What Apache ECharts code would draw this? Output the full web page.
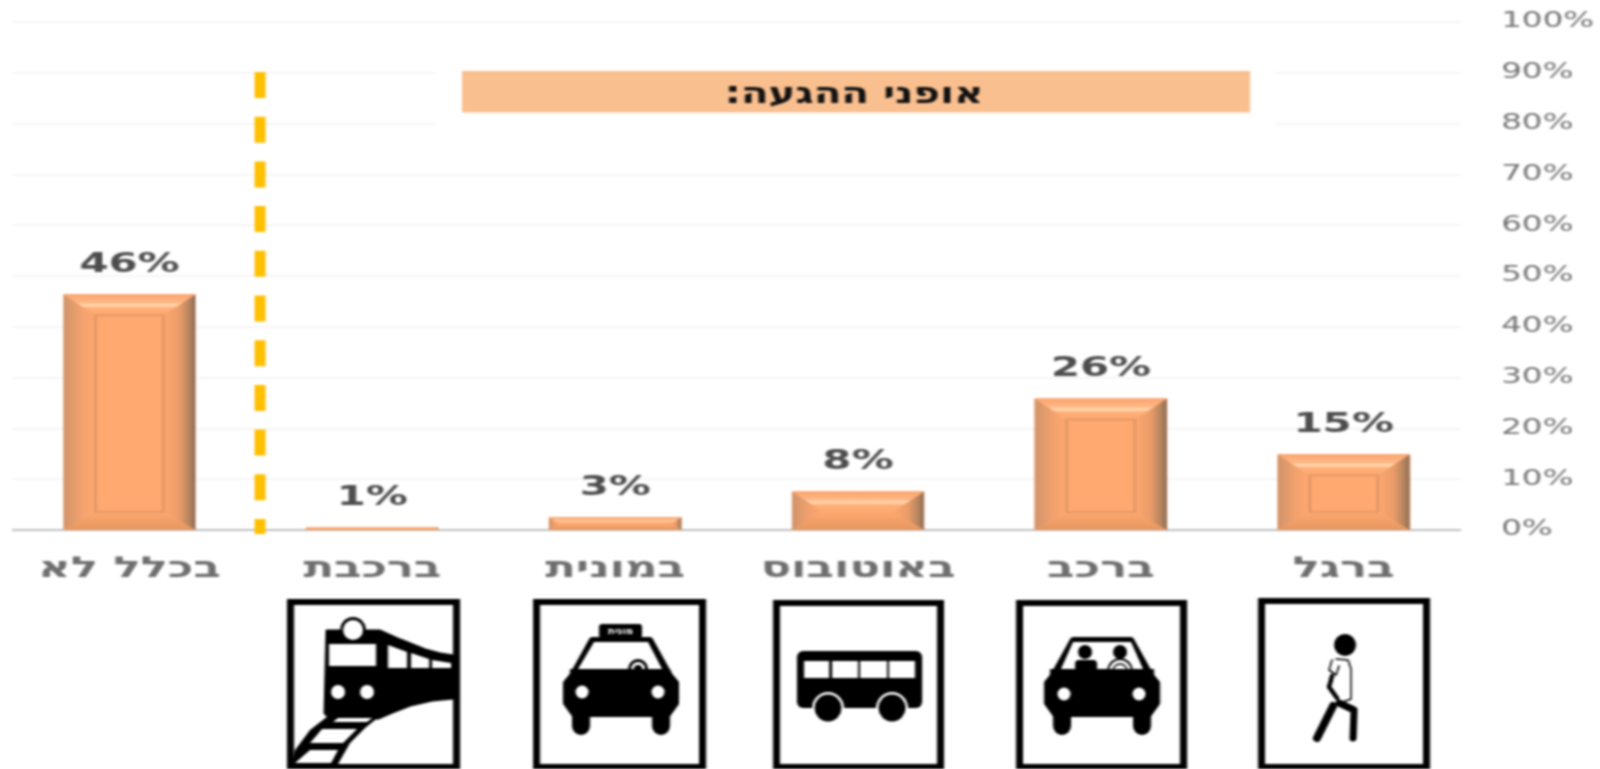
<!DOCTYPE html>
<html lang="he">
<head>
<meta charset="utf-8">
<style>
html,body{margin:0;padding:0;background:#fff;overflow:hidden;width:1600px;height:769px}
#chart{width:1032.26px;height:769px;transform:scaleX(1.55);transform-origin:0 0;direction:rtl;filter:blur(0.8px)}
</style>
<script src="https://cdn.jsdelivr.net/npm/echarts@6/dist/echarts.min.js"></script>
</head>
<body>
<div id="chart"></div>
<script>
// ---- data ----
const categories = ['ברגל', 'ברכב', 'באוטובוס', 'במונית', 'ברכבת', 'בכלל לא'];
const values = [14.9, 25.9, 7.6, 2.5, 0.5, 46.4];
const headerText = 'אופני ההגעה:';
const taxiSign = 'מונית';

// ---- layout ----
const SX = 1.55;            // the reference is stretched horizontally
const FONT = '"DejaVu Sans", sans-serif';
const BAR_W = 132;
const u = x => x / SX;

const chart = echarts.init(document.getElementById('chart'));

// ---- pictogram helpers (real page pixels, inside a group scaled by 1/SX) ----
const K = '#000', W = '#fff';
const rect = (x, y, w, h, fill, r) => ({type:'rect', z:6, shape:{x, y, width:w, height:h, r:r||0}, style:{fill}});
const circ = (cx, cy, r, fill) => ({type:'circle', z:6, shape:{cx, cy, r}, style:{fill}});
const poly = (points, fill, round) => ({type:'polygon', z:6, shape:{points}, style:{fill, stroke: round ? fill : null, lineWidth: round||0, lineJoin:'round'}});
const line = (points, lineWidth, stroke) => ({type:'polyline', z:6, shape:{points}, style:{fill:null, stroke: stroke||K, lineWidth, lineCap:'round', lineJoin:'round'}});
const frame = (x0, x1, y0) => [
  rect(x0, y0, x1 - x0, 769 - y0, K),
  rect(x0 + 7, y0 + 6, x1 - x0 - 14, 763 - y0 - 6 + 1, W)
];

function trainIcon(){
  return [
    ...frame(287, 460, 599),
    poly([[327,631],[380,631],[400,640],[425,650],[440,654],[453,656],[453,698],[432,700],[410,705],[392,712],[378,718],[330,718],[325,713]], K, 3),
    circ(353, 630, 13, K), circ(353, 630, 10, W),
    rect(329, 644, 47, 22, W),
    poly([[388,645],[407,652],[407,668],[388,668]], W),
    poly([[411,653],[429,659],[429,668],[411,668]], W),
    poly([[432,660],[451,663],[451,668],[432,668]], W),
    circ(338, 692, 7, W), circ(367, 692, 7, W),
    poly([[328,716],[380,716],[365,728],[350,743],[338,764],[292,764],[295,750],[310,730]], K),
    poly([[338,718],[372,718],[367,722],[333,722]], W),
    poly([[322,729],[357,729],[343,743],[310,743]], W),
    poly([[310,750],[338,750],[331,763],[295,763]], W)
  ];
}
function carBody(x, top, tw, w){
  // x = centre, tw = half roof width, w = half body width
  return [
    poly([[x-tw+1,top+2],[x+tw-1,top+2],[x+w-9,top+38],[x+w-3,top+45],[x+w-3,top+65],[x+w-11,top+76],[x-w+11,top+76],[x-w+3,top+65],[x-w+3,top+45],[x-w+9,top+38]], K, 6),
    rect(x-w+9, top+70, 18, 27, K, 9),
    rect(x+w-27, top+70, 18, 27, K, 9)
  ];
}
function taxiIcon(){
  return [
    ...frame(533, 706, 599),
    ...carBody(621, 638, 30, 58),
    rect(599, 624, 43, 14, K, 3),
    {type:'text', z:7, x:620.5, y:631, style:{text:taxiSign, fontFamily:FONT, fontWeight:'bold', fontSize:10, fill:W, align:'center', verticalAlign:'middle'}},
    poly([[594,642],[648,642],[662,669],[578,669]], W),
    circ(638, 669, 10, K), circ(638, 669, 7, W), circ(638, 669, 4, K),
    rect(570, 669, 100, 10, K),
    circ(582, 692, 6.5, W), circ(658, 692, 6.5, W)
  ];
}
function busIcon(){
  return [
    ...frame(773, 944, 600),
    rect(797, 651, 125, 57, K, 6),
    rect(804, 661, 25, 17, W), rect(832, 661, 26, 17, W), rect(860, 661, 27, 17, W), rect(889, 661, 26, 17, W),
    circ(828, 708, 16, W), circ(892, 708, 16, W),
    circ(828, 708, 13.5, K), circ(892, 708, 13.5, K)
  ];
}
function carIcon(){
  return [
    ...frame(1016, 1187, 600),
    ...carBody(1102, 638, 30, 58),
    poly([[1073,642],[1131,642],[1143,669],[1061,669]], W),
    circ(1085, 652, 7, K), rect(1075, 660, 22, 12, K, 4),
    circ(1120, 652, 7, K),
    {type:'arc', z:6, shape:{cx:1120, cy:671, r:12, startAngle:Math.PI, endAngle:0}, style:{fill:null, stroke:K, lineWidth:2}},
    {type:'arc', z:6, shape:{cx:1120, cy:671, r:7, startAngle:Math.PI, endAngle:0}, style:{fill:null, stroke:K, lineWidth:1.5}},
    rect(1050, 669, 104, 10, K),
    circ(1064, 694, 6.5, W), circ(1139, 694, 6.5, W)
  ];
}
function walkIcon(){
  return [
    ...frame(1258, 1430, 598),
    circ(1345, 645, 11, K),
    poly([[1336,659],[1348,660],[1351,669],[1351,699],[1340,703],[1335,697],[1337,680]], W),
    line([[1336,659],[1348,660],[1351,669],[1351,699],[1340,703]], 1.6),
    line([[1332,660],[1329,670],[1336,675],[1339,666]], 1.6),
    line([[1332,676],[1329,687],[1337,698]], 4.5),
    line([[1333,706],[1317,738]], 8),
    line([[1339,703],[1354,710],[1353,738]], 7)
  ];
}

// ---- bevel drawn over every bar, positioned by the value axis ----
function bevel(params, api){
  const top = api.coord([api.value(0), api.value(1)]);
  const base = api.coord([api.value(0), 0]);
  const w = u(BAR_W), x0 = top[0] - w / 2, x1 = x0 + w, y0 = top[1], y1 = base[1], h = y1 - y0;
  const k = Math.min(1, h / 39);
  const bx = u(32) * k, bt = 21 * k, bb = 18 * k;
  const grad = (x2, y2, stops) => ({type:'linear', x:0, y:0, x2, y2, colorStops:stops.map(s => ({offset:s[0], color:s[1]}))});
  const pg = (points, fill) => ({type:'polygon', shape:{points}, style:{fill}});
  const kids = [
    {type:'rect', shape:{x:x0, y:y0, width:w, height:h}, style:{fill:'#FFA870'}},
    pg([[x0,y0],[x0+bx,y0+bt],[x0+bx,y1-bb],[x0,y1]], grad(1,0,[[0,'#D0946A'],[0.55,'#F2A16E'],[1,'#FFA870']])),
    pg([[x1,y0],[x1-bx,y0+bt],[x1-bx,y1-bb],[x1,y1]], grad(1,0,[[0,'#FFA870'],[0.5,'#EA9C69'],[0.82,'#B4845F'],[1,'#8C6B54']])),
    pg([[x0,y0],[x1,y0],[x1-bx,y0+bt],[x0+bx,y0+bt]], grad(0,1,[[0,'#FAA56F'],[0.38,'#FFB684'],[0.52,'#FFDAB0'],[0.68,'#FFAE78'],[1,'#FFA870']])),
    pg([[x0,y1],[x1,y1],[x1-bx,y1-bb],[x0+bx,y1-bb]], grad(0,1,[[0,'#FFA870'],[1,'#E5975F']]))
  ];
  if (h > bt + bb + 4) {
    kids.push({type:'rect', shape:{x:x0+bx, y:y0+bt, width:w-2*bx, height:h-bt-bb},
      style:{fill:null, stroke:'#DD9566', lineWidth:1.5}});
  }
  return {type:'group', children:kids};
}

chart.setOption({
  animation:false,
  backgroundColor:'#fff',
  grid:{left:u(8), right:u(1600-1465.5), top:22, bottom:769-530, containLabel:false},
  xAxis:{
    type:'category', data:categories, inverse:true,
    axisLine:{lineStyle:{color:'#BFBFBF', width:2}},
    axisTick:{show:false},
    axisLabel:{color:'#6E6E6E', fontFamily:FONT, fontWeight:'bold', fontSize:29, margin:25, interval:0}
  },
  yAxis:{
    type:'value', position:'right', min:0, max:100, interval:10,
    axisLine:{show:false}, axisTick:{show:false},
    splitLine:{lineStyle:{color:'#F5F5F5', width:2}},
    axisLabel:{color:'#757575', fontFamily:FONT, fontSize:21, margin:u(36), align:'left', padding:[5,0,0,0], formatter:'{value}%'}
  },
  series:[
    {type:'bar', data:values, barWidth:u(BAR_W), z:2, itemStyle:{color:'#FFA870'},
     label:{show:true, position:'top', distance:16, color:'#4D4D4D', fontFamily:FONT, fontWeight:'bold', fontSize:27,
            formatter:p => Math.round(p.value) + '%'}},
    {type:'custom', data:values.map((v,i)=>[i,v]), z:3, renderItem:bevel, encode:{x:0,y:1}, silent:true}
  ],
  graphic:[
    {type:'rect', z:7, shape:{x:0, y:0, width:u(12), height:560}, style:{fill:'#fff'}},
    {type:'rect', z:7, shape:{x:u(1461), y:0, width:u(8), height:560}, style:{fill:'#fff'}},
    {type:'rect', z:1, shape:{x:u(436), y:60, width:u(839), height:75}, style:{fill:'#fff'}},
    {type:'rect', z:4, shape:{x:u(462), y:71, width:u(788), height:41.5}, style:{fill:'#F9BF8F'}},
    {type:'text', z:5, x:u(854), y:95, scaleX:0.87, style:{text:headerText, fontFamily:FONT, fontWeight:'bold', fontSize:30, fill:'#111', align:'center', verticalAlign:'middle'}},
    {type:'line', z:5, shape:{x1:u(260), y1:72, x2:u(260), y2:534}, style:{stroke:'#FFC000', lineWidth:u(11), lineDash:[26,18.7]}},
    {type:'group', z:6, scaleX:1/SX, children:[...trainIcon(), ...taxiIcon(), ...busIcon(), ...carIcon(), ...walkIcon()]}
  ]
});
</script>
</body>
</html>
